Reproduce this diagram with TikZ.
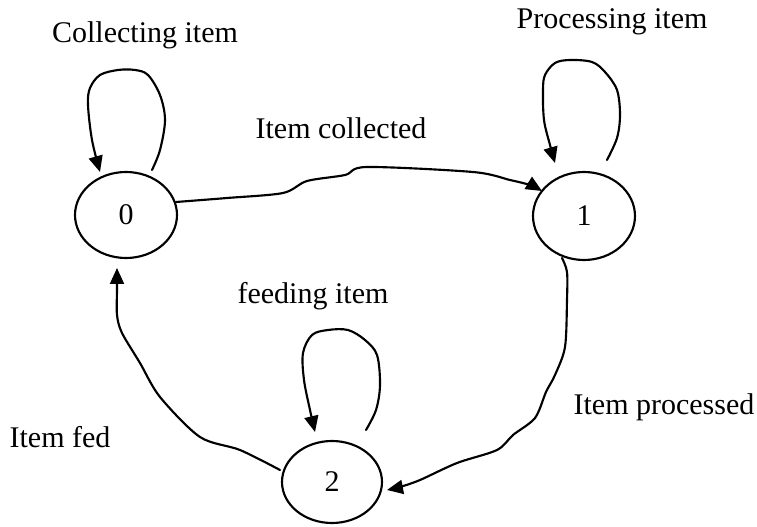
\documentclass[tikz,border=0pt]{standalone}
\usepackage{fontspec}
\setmainfont{Liberation Serif}
\usetikzlibrary{shapes.geometric,arrows.meta,calc}
\begin{document}
\begin{tikzpicture}[x=0.75pt,y=-0.75pt,
  every node/.style={font=\fontsize{22.5}{27}\selectfont},
  state/.style={ellipse,draw,line width=1.6pt,inner sep=0pt},
  link/.style={line width=1.6pt,-{Triangle[length=12pt,width=10.5pt]},
    line join=round,line cap=round},
  lbl/.style={inner sep=0pt}]
\useasboundingbox (0,0) rectangle (757,527);

% states
\node[state,minimum width=76.5pt,minimum height=64.5pt] (n0) at (126,215) {0};
\node[state,minimum width=76.5pt,minimum height=66pt] (n1) at (584,216) {1};
\node[state,minimum width=75pt,minimum height=61.5pt] (n2) at (332,482) {2};

% labels
\node[lbl] (lc) at (145,35) {Collecting item};
\node[lbl] (lp) at (612,22) {Processing item};
\node[lbl] (li) at (341,128) {Item collected};
\node[lbl] (lf) at (313,296) {feeding item};
\node[lbl] (lpd) at (664,407) {Item processed};
\node[lbl] (lfd) at (60,437) {Item fed};

% self loops
\draw[link] plot[smooth,tension=0.55] coordinates {
  ($(n0)+(26,-45)$) (160,150) (165,120) (160,95) (148,75) (135,70) (118,70)
  (100,75) (90,88) (88,105) (92,140) ($(n0)+(-26,-43)$)};
\draw[link] plot[smooth,tension=0.55] coordinates {
  ($(n1)+(23,-56)$) (617,138) (620,115) (617,90) (605,72) (592,62) (570,60)
  (555,63) (545,75) (543,90) (544,120) (550,145) ($(n1)+(-29,-53)$)};
\draw[link] plot[smooth,tension=0.55] coordinates {
  ($(n2)+(34,-52)$) (376,410) (380,385) (377,355) (365,340) (348,330) (328,330)
  (312,335) (303,353) (304,380) (310,410) ($(n2)+(-17,-50)$)};

% transitions
\draw[link] plot[smooth,tension=0.5] coordinates {
  ($(n0)+(50,-13)$) (227,198) (283,193) (307,181) (345,175) (367,167)
  (473,172) (510,180) (530,185) ($(n1)+(-42,-25)$)};
\draw[link] plot[smooth,tension=0.5] coordinates {
  ($(n1)+(-22,42)$) (567,272) (567,300) (565,347) (555,375) (546,392)
  (535,418) (513,435) (497,450) (457,463) (420,480) (400,487) ($(n2)+(55,8)$)};
\draw[link] plot[smooth,tension=0.5] coordinates {
  ($(n2)+(-52,-12)$) (240,450) (200,437) (160,397) (140,363) (122,333)
  (117,315) (117,290) ($(n0)+(-9,53)$)};
\end{tikzpicture}
\end{document}
